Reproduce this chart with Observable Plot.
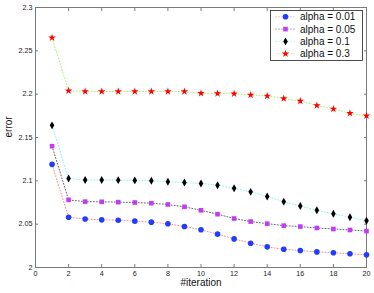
<!DOCTYPE html>
<html>
<head>
<meta charset="utf-8">
<script src="https://cdn.jsdelivr.net/npm/d3@7"></script>
<script src="https://cdn.jsdelivr.net/npm/@observablehq/plot@0.6"></script>
<style>
  html, body { margin: 0; padding: 0; background: #fff; }
  #chart { position: relative; width: 374px; height: 293px; }
</style>
</head>
<body>
<div id="chart"></div>
<script>
const iterations = [1,2,3,4,5,6,7,8,9,10,11,12,13,14,15,16,17,18,19,20];
const seriesNames = ["alpha = 0.01", "alpha = 0.05", "alpha = 0.1", "alpha = 0.3"];
const alpha001 = [2.119, 2.058, 2.056, 2.055, 2.0546, 2.0535, 2.0523, 2.0504, 2.0473, 2.0435, 2.0385, 2.033, 2.028, 2.0238, 2.021, 2.0196, 2.018, 2.017, 2.0158, 2.0146];
const alpha005 = [2.140, 2.078, 2.076, 2.0758, 2.0754, 2.075, 2.0742, 2.0727, 2.070, 2.066, 2.0615, 2.0565, 2.053, 2.0506, 2.0483, 2.0472, 2.0456, 2.0444, 2.0433, 2.042];
const alpha01 = [2.164, 2.1027, 2.101, 2.101, 2.1008, 2.1005, 2.100, 2.099, 2.098, 2.097, 2.095, 2.0915, 2.0873, 2.082, 2.076, 2.071, 2.066, 2.062, 2.058, 2.054];
const alpha03 = [2.265, 2.204, 2.203, 2.203, 2.203, 2.203, 2.203, 2.203, 2.203, 2.201, 2.2008, 2.2005, 2.199, 2.198, 2.195, 2.192, 2.187, 2.183, 2.178, 2.175];
const xTicks = [0,2,4,6,8,10,12,14,16,18,20];
const yTicks = [2, 2.05, 2.1, 2.15, 2.2, 2.25, 2.3];
const xLabel = "#iteration";
const yLabel = "error";

const styles = [
  {values: alpha001, symbol: "circle", fill: "#1f3cff", line: "#ff8a8a", r: 2.8},
  {values: alpha005, symbol: "square", fill: "#c13cf5", line: "#666666", r: 2.6},
  {values: alpha01, symbol: "diamond", fill: "#000000", line: "#8ff5ee", r: 2.4},
  {values: alpha03, symbol: "star", fill: "#ff0000", line: "#a8f57a", r: 2.4}
];

const data = [];
styles.forEach((s, i) => {
  s.values.forEach((v, j) => data.push({series: seriesNames[i], x: iterations[j], y: v}));
});

const font = "Liberation Sans, Arial, Helvetica, sans-serif";
const marks = [
  Plot.frame({stroke: "#7a7a7a"}),
  Plot.axisX({anchor: "bottom", ticks: xTicks, tickSize: -3, tickPadding: 6, fontSize: 7.2, label: null, stroke: "#7a7a7a", color: "#222"}),
  Plot.axisX({anchor: "top", ticks: xTicks, tickSize: -3, tickFormat: () => "", label: null, stroke: "#7a7a7a"}),
  Plot.axisY({anchor: "left", ticks: yTicks, tickSize: -3, tickPadding: 6, fontSize: 7.2, tickFormat: d => String(+d.toFixed(2)), label: null, stroke: "#7a7a7a", color: "#222"}),
  Plot.axisY({anchor: "right", ticks: yTicks, tickSize: -3, tickFormat: () => "", label: null, stroke: "#7a7a7a"}),
  Plot.text([xLabel], {frameAnchor: "bottom", dy: 18.5, fontSize: 10, fill: "#111"}),
  Plot.text([yLabel], {frameAnchor: "left", rotate: -90, dx: -27, fontSize: 10, fill: "#111"})
];
styles.forEach((s, i) => {
  const d = data.filter(p => p.series === seriesNames[i]);
  marks.push(Plot.line(d, {x: "x", y: "y", stroke: s.line, strokeWidth: 1, strokeDasharray: "1,2"}));
});
styles.forEach((s, i) => {
  const d = data.filter(p => p.series === seriesNames[i]);
  marks.push(Plot.dot(d, {x: "x", y: "y", symbol: () => s.symbol, fill: s.fill, r: s.r, stroke: "none"}));
});

const chart = Plot.plot({
  width: 374,
  height: 293,
  marginLeft: 35,
  marginRight: 8,
  marginTop: 7,
  marginBottom: 26,
  style: {fontFamily: font, background: "#fff", color: "#222"},
  x: {domain: [0, 20], label: null},
  y: {domain: [2, 2.3], label: null},
  symbol: {domain: ["circle","square","diamond","star"], range: ["circle","square","diamond","star"]},
  marks
});
document.getElementById("chart").appendChild(chart);

// Legend inside plot (top-right), drawn with d3 into the SVG
const svg = d3.select(chart);
const lg = svg.append("g").attr("font-family", font).attr("font-size", 10).attr("text-anchor", "start");
const bx = 270.5, by = 10.5, bw = 92, bh = 50;
lg.append("rect").attr("x", bx).attr("y", by).attr("width", bw).attr("height", bh)
  .attr("fill", "#fff").attr("stroke", "#222").attr("stroke-width", 0.8);
const symMap = {circle: d3.symbolCircle, square: d3.symbolSquare, diamond: d3.symbolDiamond, star: d3.symbolStar};
styles.forEach((s, i) => {
  const yy = by + 6.3 + i * 12.3;
  lg.append("line").attr("x1", bx + 5).attr("x2", bx + 25).attr("y1", yy).attr("y2", yy)
    .attr("stroke", s.line).attr("stroke-dasharray", "1,2");
  lg.append("path").attr("transform", `translate(${bx + 15},${yy})`)
    .attr("d", d3.symbol(symMap[s.symbol], Math.PI * s.r * s.r)()).attr("fill", s.fill);
  lg.append("text").attr("x", bx + 29.5).attr("y", yy).attr("dy", "0.35em").attr("fill", "#111").text(seriesNames[i]);
});
</script>
</body>
</html>
